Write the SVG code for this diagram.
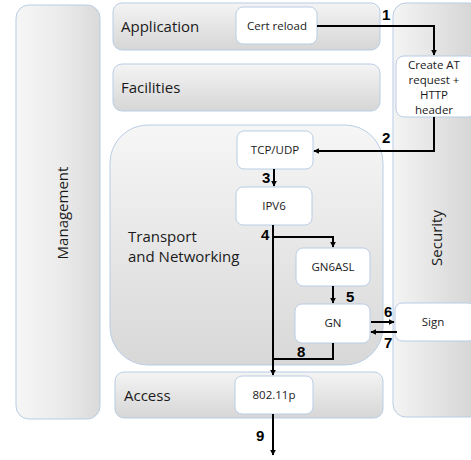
<svg xmlns="http://www.w3.org/2000/svg" width="471" height="460" viewBox="0 0 471 460">
<defs>
<linearGradient id="gv" x1="0" y1="0" x2="0" y2="1"><stop offset="0" stop-color="#f4f4f4"/><stop offset="1" stop-color="#d6d6d6"/></linearGradient>
<linearGradient id="gt" x1="0" y1="0" x2="0" y2="1"><stop offset="0" stop-color="#f6f6f6"/><stop offset="1" stop-color="#d8d8d8"/></linearGradient>
<linearGradient id="gh" x1="0" y1="0" x2="1" y2="0"><stop offset="0" stop-color="#f6f6f6"/><stop offset="0.5" stop-color="#ececec"/><stop offset="1" stop-color="#dadada"/></linearGradient>
<linearGradient id="gs" x1="0" y1="0" x2="1" y2="0"><stop offset="0" stop-color="#f4f4f4"/><stop offset="1" stop-color="#d2d2d2"/></linearGradient>
<marker id="ah" viewBox="0 0 10 10" refX="9" refY="5" markerWidth="6" markerHeight="6" orient="auto" markerUnits="userSpaceOnUse"><path d="M0,0 L10,5 L0,10 z" fill="#000"/></marker>
</defs>
<style>
.layer{stroke:#b9cde5;stroke-width:1}
.node rect{fill:#fff;stroke:#b9cde5;stroke-width:1}
.lt{font-family:"Open Sans","Liberation Sans",sans-serif;font-size:15px;fill:#1a1a1a}
.nt{font-family:"Open Sans","Liberation Sans",sans-serif;font-size:11.5px;fill:#1a1a1a;text-anchor:middle}
.num{font-family:"Liberation Sans",Arial,sans-serif;font-size:15px;font-weight:bold;fill:#000}
.c{fill:none;stroke:#000;stroke-width:2}
</style>
<g id="management"><rect class="layer" x="16" y="5" width="84" height="414" rx="13" fill="url(#gh)"/><text class="lt" transform="translate(68,213) rotate(-90)" text-anchor="middle">Management</text></g>
<g id="security"><rect class="layer" x="393" y="3" width="90" height="414" rx="13" fill="url(#gs)"/><text class="lt" transform="translate(442,238) rotate(-90)" text-anchor="middle">Security</text></g>
<g id="application"><rect class="layer" x="113" y="3" width="267" height="47" rx="9" fill="url(#gv)"/><text class="lt" x="121" y="32">Application</text></g>
<g id="facilities"><rect class="layer" x="113" y="64" width="267" height="47" rx="9" fill="url(#gv)"/><text class="lt" x="121" y="93">Facilities</text></g>
<g id="transport"><rect class="layer" x="110" y="125" width="273" height="240" rx="38" fill="url(#gt)"/><text class="lt" x="128" y="242">Transport</text><text class="lt" x="128" y="262">and Networking</text></g>
<g id="access"><rect class="layer" x="115" y="372" width="268" height="46" rx="9" fill="url(#gv)"/><text class="lt" x="124" y="401">Access</text></g>
<g id="cert-reload" class="node"><rect x="236" y="7" width="81" height="37" rx="7"/><text class="nt" x="277" y="30">Cert reload</text></g>
<g id="create-at" class="node"><rect x="396" y="56" width="80" height="61" rx="8"/><text class="nt" x="434" y="69">Create AT</text><text class="nt" x="434" y="84">request +</text><text class="nt" x="434" y="99">HTTP</text><text class="nt" x="434" y="114">header</text></g>
<g id="tcp-udp" class="node"><rect x="237" y="131" width="76" height="38" rx="7"/><text class="nt" x="275" y="154">TCP/UDP</text></g>
<g id="ipv6" class="node"><rect x="236" y="187" width="76" height="38" rx="7"/><text class="nt" x="274" y="210">IPV6</text></g>
<g id="gn6asl" class="node"><rect x="296" y="248" width="74" height="38" rx="7"/><text class="nt" x="333" y="271">GN6ASL</text></g>
<g id="gn" class="node"><rect x="295" y="304" width="75" height="39" rx="7"/><text class="nt" x="333" y="327">GN</text></g>
<g id="sign" class="node"><rect x="395" y="303" width="80" height="38" rx="7"/><text class="nt" x="433" y="326">Sign</text></g>
<g id="n80211p" class="node"><rect x="235" y="376" width="78" height="38" rx="7"/><text class="nt" x="274" y="399">802.11p</text></g>
<g id="connectors">
<path class="c" d="M317,26 H434 V55" marker-end="url(#ah)"/>
<path class="c" d="M434,117 V151 H314" marker-end="url(#ah)"/>
<path class="c" d="M274,169 V186" marker-end="url(#ah)"/>
<path class="c" d="M273,225 V375" marker-end="url(#ah)"/>
<path class="c" d="M273,237 H333 V247" marker-end="url(#ah)"/>
<path class="c" d="M333,286 V303" marker-end="url(#ah)"/>
<path class="c" d="M371,322 H394" marker-end="url(#ah)"/>
<path class="c" d="M397,332 H371" marker-end="url(#ah)"/>
<path class="c" d="M333,343 V359 H273"/>
<path class="c" d="M273,414 V455" marker-end="url(#ah)"/>
<text class="num" x="382" y="20">1</text>
<text class="num" x="382" y="143">2</text>
<text class="num" x="262" y="183">3</text>
<text class="num" x="261" y="240">4</text>
<text class="num" x="346" y="302">5</text>
<text class="num" x="384" y="317">6</text>
<text class="num" x="384" y="348">7</text>
<text class="num" x="297" y="357">8</text>
<text class="num" x="256" y="441">9</text>
</g>
</svg>
